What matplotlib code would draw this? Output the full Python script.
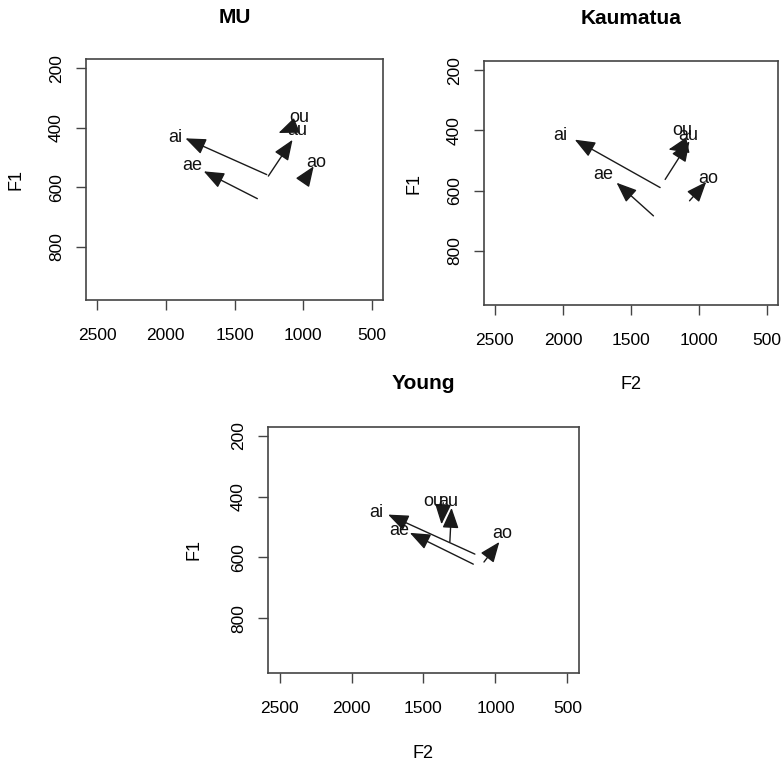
import matplotlib
matplotlib.use('Agg')
import matplotlib.pyplot as plt

plt.rcParams['font.family'] = ['Liberation Sans', 'DejaVu Sans']

vowels = ['ai', 'ae', 'au', 'ou', 'ao']

# MU speakers: onset (start) and offset (end) of each diphthong, plus label spot
mu_f2_start = [1266, 1334, 1254, 1060, 989]
mu_f1_start = [558, 639, 563, 395, 574]
mu_f2_end = [1857, 1724, 1078, 1180, 924]
mu_f1_end = [436, 547, 441, 418, 530]
mu_lab_f2 = [1929, 1804, 1042, 1030, 905]
mu_lab_f1 = [433, 528, 411, 366, 517]

# Kaumatua speakers
ka_f2_start = [1286, 1335, 1249, 1114, 1070]
ka_f1_start = [590, 684, 563, 453, 634]
ka_f2_end = [1913, 1606, 1070, 1225, 947]
ka_f1_end = [431, 574, 436, 464, 571]
ka_lab_f2 = [2016, 1704, 1077, 1127, 930]
ka_lab_f1 = [418, 546, 418, 401, 559]

# Young speakers
yo_f2_start = [1143, 1154, 1317, 1363, 1080]
yo_f1_start = [589, 622, 549, 420, 615]
yo_f2_end = [1746, 1595, 1305, 1375, 973]
yo_f1_end = [459, 519, 437, 491, 549]
yo_lab_f2 = [1827, 1665, 1328, 1433, 950]
yo_lab_f1 = [451, 510, 415, 415, 521]

x_ticks = [2500, 2000, 1500, 1000, 500]
y_ticks = [200, 400, 600, 800]

fig = plt.figure(figsize=(7.82, 7.62), dpi=100)


def draw_panel(rect, title, f2s, f1s, f2e, f1e, lf2, lf1, show_xlabel=True):
    ax = fig.add_axes(rect)
    ax.set_xlim(2580, 420)
    ax.set_ylim(980, 170)
    for i, v in enumerate(vowels):
        ax.annotate('', xy=(f2e[i], f1e[i]), xytext=(f2s[i], f1s[i]),
                    arrowprops=dict(arrowstyle='-|>,head_length=1.25,head_width=0.5',
                                    color='#1a1a1a', lw=1.0, shrinkA=0, shrinkB=0))
        ax.text(lf2[i], lf1[i], v, ha='center', va='center', fontsize=13, color='#111111')
    ax.set_xticks(x_ticks)
    ax.set_yticks(y_ticks)
    ax.tick_params(axis='both', length=7, width=1.0, color='#444444', labelsize=12.5)
    ax.tick_params(axis='x', pad=13)
    ax.tick_params(axis='y', pad=9)
    for lab in ax.get_yticklabels():
        lab.set_rotation(90)
        lab.set_va('center')
    for s in ax.spines.values():
        s.set_color('#444444')
        s.set_linewidth(1.2)
    ax.set_ylabel('F1', fontsize=13, va='center')
    ax.yaxis.set_label_coords(-0.237, 0.5)
    if show_xlabel:
        ax.set_xlabel('F2', fontsize=13, va='center')
        ax.xaxis.set_label_coords(0.5, -0.325)
    ax.text(0.5, 1.175, title, transform=ax.transAxes, ha='center', va='center',
            fontsize=15, fontweight='bold')
    return ax


draw_panel([0.110, 0.6063, 0.3798, 0.3159], 'MU',
           mu_f2_start, mu_f1_start, mu_f2_end, mu_f1_end, mu_lab_f2, mu_lab_f1,
           show_xlabel=False)
draw_panel([0.6189, 0.5997, 0.3760, 0.3202], 'Kaumatua',
           ka_f2_start, ka_f1_start, ka_f2_end, ka_f1_end, ka_lab_f2, ka_lab_f1)
draw_panel([0.3427, 0.1168, 0.3977, 0.3232], 'Young',
           yo_f2_start, yo_f1_start, yo_f2_end, yo_f1_end, yo_lab_f2, yo_lab_f1)

fig.savefig('out.png', dpi=100)
